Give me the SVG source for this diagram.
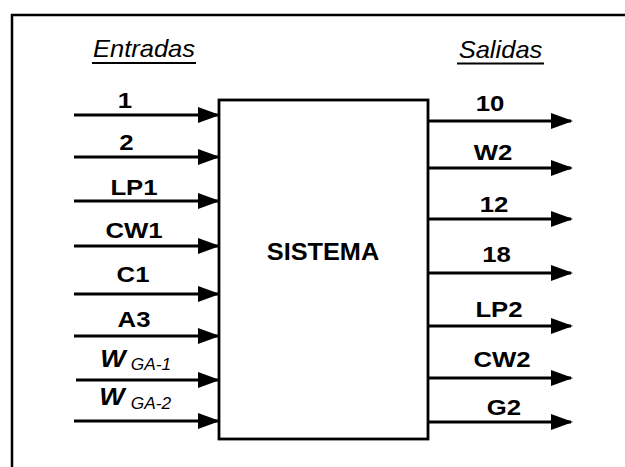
<svg xmlns="http://www.w3.org/2000/svg" width="625" height="467" viewBox="0 0 625 467">
<defs>
<marker id="ah" markerUnits="userSpaceOnUse" markerWidth="23" markerHeight="17" refX="20" refY="8" orient="auto">
<path d="M0,0 L22,8 L0,16 Z" fill="#000"/>
</marker>
<style>
.t{font-family:"Liberation Sans",Arial,sans-serif;font-weight:bold;font-size:23px;text-anchor:middle;fill:#000}
.h{font-family:"Liberation Sans",Arial,sans-serif;font-style:italic;font-size:23px;text-anchor:middle;fill:#000}
.w{font-family:"Liberation Sans",Arial,sans-serif;font-style:italic;font-weight:bold;font-size:24px;text-anchor:middle;fill:#000}
.s{font-family:"Liberation Sans",Arial,sans-serif;font-style:italic;font-size:16px;text-anchor:middle;fill:#000}
.c{stroke:#000;stroke-width:2.8;fill:none;marker-end:url(#ah)}
.f{stroke:#000;stroke-width:2.5;fill:none}
</style>
</defs>
<rect width="625" height="467" fill="#fff"/>
<g id="frame">
<path class="f" d="M12,467 L12,15 L625,15"/>
</g>
<g id="headers">
<text class="h" transform="translate(144,57) scale(1.11,1)">Entradas</text>
<line x1="92" y1="63" x2="196" y2="63" stroke="#000" stroke-width="2.2"/>
<text class="h" transform="translate(500.5,58) scale(1.11,1)">Salidas</text>
<line x1="457" y1="63.5" x2="544" y2="63.5" stroke="#000" stroke-width="2.2"/>
</g>
<g id="sistema">
<rect x="219" y="100" width="209" height="339" fill="none" stroke="#000" stroke-width="2.8"/>
<text class="t" transform="translate(323,260) scale(1.1,1)">SISTEMA</text>
</g>
<g id="connectors">
<line class="c" x1="74" y1="115" x2="218" y2="115"/>
<line class="c" x1="74" y1="157" x2="218" y2="157"/>
<line class="c" x1="74" y1="201" x2="218" y2="201"/>
<line class="c" x1="74" y1="246" x2="218" y2="246"/>
<line class="c" x1="74" y1="294" x2="218" y2="294"/>
<line class="c" x1="74" y1="336" x2="218" y2="336"/>
<line class="c" x1="76" y1="380" x2="218" y2="380"/>
<line class="c" x1="74" y1="421" x2="218" y2="421"/>
<line class="c" x1="428" y1="121" x2="571" y2="121"/>
<line class="c" x1="428" y1="168" x2="571" y2="168"/>
<line class="c" x1="428" y1="219" x2="571" y2="219"/>
<line class="c" x1="428" y1="273" x2="571" y2="273"/>
<line class="c" x1="428" y1="326" x2="571" y2="326"/>
<line class="c" x1="428" y1="378" x2="571" y2="378"/>
<line class="c" x1="428" y1="422" x2="571" y2="422"/>
</g>
<g id="in-labels">
<text class="t" transform="translate(125,108) scale(1.12,1)">1</text>
<text class="t" transform="translate(126.5,150) scale(1.12,1)">2</text>
<text class="t" transform="translate(134,195) scale(1.12,1)">LP1</text>
<text class="t" transform="translate(134,238) scale(1.12,1)">CW1</text>
<text class="t" transform="translate(133,282) scale(1.12,1)">C1</text>
<text class="t" transform="translate(134,327) scale(1.12,1)">A3</text>
<text class="w" transform="translate(113,367) scale(1.12,1)">W</text>
<text class="s" transform="translate(151,370) scale(1.08,1)">GA-1</text>
<text class="w" transform="translate(112,405) scale(1.12,1)">W</text>
<text class="s" transform="translate(151,409) scale(1.08,1)">GA-2</text>
</g>
<g id="out-labels">
<text class="t" transform="translate(490,111) scale(1.12,1)">10</text>
<text class="t" transform="translate(493,160) scale(1.12,1)">W2</text>
<text class="t" transform="translate(494,212) scale(1.12,1)">12</text>
<text class="t" transform="translate(496.5,262) scale(1.12,1)">18</text>
<text class="t" transform="translate(499,317) scale(1.12,1)">LP2</text>
<text class="t" transform="translate(502,367) scale(1.12,1)">CW2</text>
<text class="t" transform="translate(504,415) scale(1.12,1)">G2</text>
</g>
</svg>
